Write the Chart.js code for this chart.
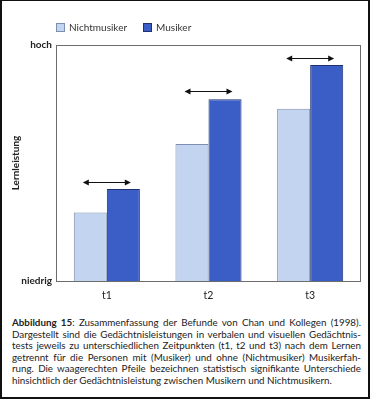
<!DOCTYPE html>
<html lang="de">
<head>
    <meta charset="UTF-8">
    <title>Abbildung 15</title>
    <script src="https://cdn.jsdelivr.net/npm/chart.js"></script>
    <style>
        body {
            margin: 0;
            background: #fff;
            font-family: Lato, "DejaVu Sans", sans-serif;
        }

        .page {
            position: relative;
            width: 370px;
            height: 399px;
            overflow: hidden;
        }

        .frame {
            position: absolute;
            left: 0;
            top: 0;
            width: 370px;
            height: 399px;
            box-sizing: border-box;
            border: 2px solid #111;
            border-top-width: 1px;
            pointer-events: none;
        }

        #chartBox {
            position: absolute;
            left: 0;
            top: 0;
            width: 370px;
            height: 305px;
        }

        #legende {
            position: absolute;
            left: 56px;
            top: 21px;
            font-size: 10px;
            color: #333;
            display: flex;
            gap: 16px;
        }

        #legende span.box {
            display: inline-block;
            width: 7px;
            height: 7px;
            margin-right: 4px;
            vertical-align: -1px;
        }

        .legende-item {
            white-space: nowrap;
        }

        .caption {
            position: absolute;
            left: 12px;
            top: 317px;
            width: 349px;
            font-size: 9.8px;
            line-height: 11.6px;
            color: #222;
        }

        .caption div {
            text-align: justify;
            text-align-last: justify;
            white-space: nowrap;
        }

        .caption div.last {
            text-align-last: left;
        }
    </style>
</head>
<body>
<div class="page">
    <div id="chartBox"><canvas id="graphique"></canvas></div>
    <div id="legende"></div>
    <div class="caption">
        <div><b>Abbildung 15</b>: Zusammenfassung der Befunde von Chan und Kollegen (1998).</div>
        <div>Dargestellt sind die Gedächtnisleistungen in verbalen und visuellen Gedächtnis-</div>
        <div>tests jeweils zu unterschiedlichen Zeitpunkten (t1, t2 und t3) nach dem Lernen</div>
        <div>getrennt für die Personen mit (Musiker) und ohne (Nichtmusiker) Musikerfah-</div>
        <div>rung. Die waagerechten Pfeile bezeichnen statistisch signifikante Unterschiede</div>
        <div class="last">hinsichtlich der Gedächtnisleistung zwischen Musikern und Nichtmusikern.</div>
    </div>
    <div class="frame"></div>
</div>

<script>
    // Daten
    const zeitpunkte = ['t1', 't2', 't3'];
    const nichtmusiker = [29, 58, 73];
    const musiker = [39, 77, 91.5];
    // Höhe der Signifikanz-Pfeile (gleiche Skala)
    const pfeilHoehe = [42, 80.5, 94.5];
    const yLabels = { 0: 'niedrig', 100: 'hoch' };

    const hell = '#c3d4f1';
    const dunkel = '#3a5ec6';

    // Rahmen um die Zeichenfläche + Doppelpfeile
    const rahmenPlugin = {
        id: 'rahmen',
        afterDatasetsDraw(chart) {
            const ctx = chart.ctx;
            const a = chart.chartArea;
            const x = chart.scales.x;
            const y = chart.scales.y;
            ctx.save();
            ctx.strokeStyle = '#6d6d6d';
            ctx.lineWidth = 1;
            ctx.strokeRect(a.left + 0.5, a.top + 0.5, a.right - a.left - 1, a.bottom - a.top);

            const halb = (x.getPixelForValue(1) - x.getPixelForValue(0)) * 0.236;
            ctx.strokeStyle = '#111';
            ctx.fillStyle = '#111';
            pfeilHoehe.forEach((h, i) => {
                const cx = x.getPixelForValue(i);
                const py = Math.round(y.getPixelForValue(h)) + 0.5;
                const x1 = cx - halb, x2 = cx + halb;
                ctx.beginPath();
                ctx.moveTo(x1 + 3, py);
                ctx.lineTo(x2 - 3, py);
                ctx.stroke();
                [[x1, 1], [x2, -1]].forEach(([px, d]) => {
                    ctx.beginPath();
                    ctx.moveTo(px, py);
                    ctx.lineTo(px + 6 * d, py - 3);
                    ctx.lineTo(px + 6 * d, py + 3);
                    ctx.closePath();
                    ctx.fill();
                });
            });
            ctx.restore();
        }
    };

    const chart = new Chart(document.getElementById('graphique'), {
        type: 'bar',
        data: {
            labels: zeitpunkte,
            datasets: [{
                label: 'Nichtmusiker',
                data: nichtmusiker,
                backgroundColor: hell,
                borderColor: '#7d8fb0',
                borderWidth: 1
            }, {
                label: 'Musiker',
                data: musiker,
                backgroundColor: dunkel,
                borderColor: '#1f3170',
                borderWidth: 1
            }]
        },
        options: {
            responsive: true,
            maintainAspectRatio: false,
            animation: false,
            layout: { padding: { left: 8, right: 9, top: 45, bottom: 0 } },
            datasets: { bar: { categoryPercentage: 0.65, barPercentage: 1 } },
            plugins: {
                legend: { display: false },
                tooltip: { enabled: false }
            },
            scales: {
                x: {
                    grid: { display: false, drawTicks: false },
                    border: { display: false },
                    ticks: {
                        padding: 8,
                        color: '#222',
                        font: { family: 'Lato', size: 10.5 }
                    },
                    afterFit(scale) { scale.height = 24; }
                },
                y: {
                    min: 0,
                    max: 100,
                    grid: { display: false, drawTicks: false },
                    border: { display: false },
                    afterBuildTicks(scale) {
                        scale.ticks = Object.keys(yLabels).map(v => ({ value: Number(v) }));
                    },
                    ticks: {
                        padding: 4,
                        color: '#222',
                        font: { family: 'Lato', size: 10, weight: 'bold' },
                        callback: v => yLabels[v]
                    },
                    title: {
                        display: true,
                        text: 'Lernleistung',
                        color: '#222',
                        padding: { top: 2, bottom: 0 },
                        font: { family: 'Lato', size: 10, weight: 'bold' }
                    },
                    afterFit(scale) { scale.width = 48; }
                }
            }
        },
        plugins: [rahmenPlugin]
    });

    // Legende aus den Datensätzen
    const legende = document.getElementById('legende');
    chart.data.datasets.forEach(ds => {
        const item = document.createElement('span');
        item.className = 'legende-item';
        item.innerHTML = `<span class="box" style="background:${ds.backgroundColor};border:1px solid ${ds.borderColor}"></span>${ds.label}`;
        legende.appendChild(item);
    });
</script>
</body>
</html>
